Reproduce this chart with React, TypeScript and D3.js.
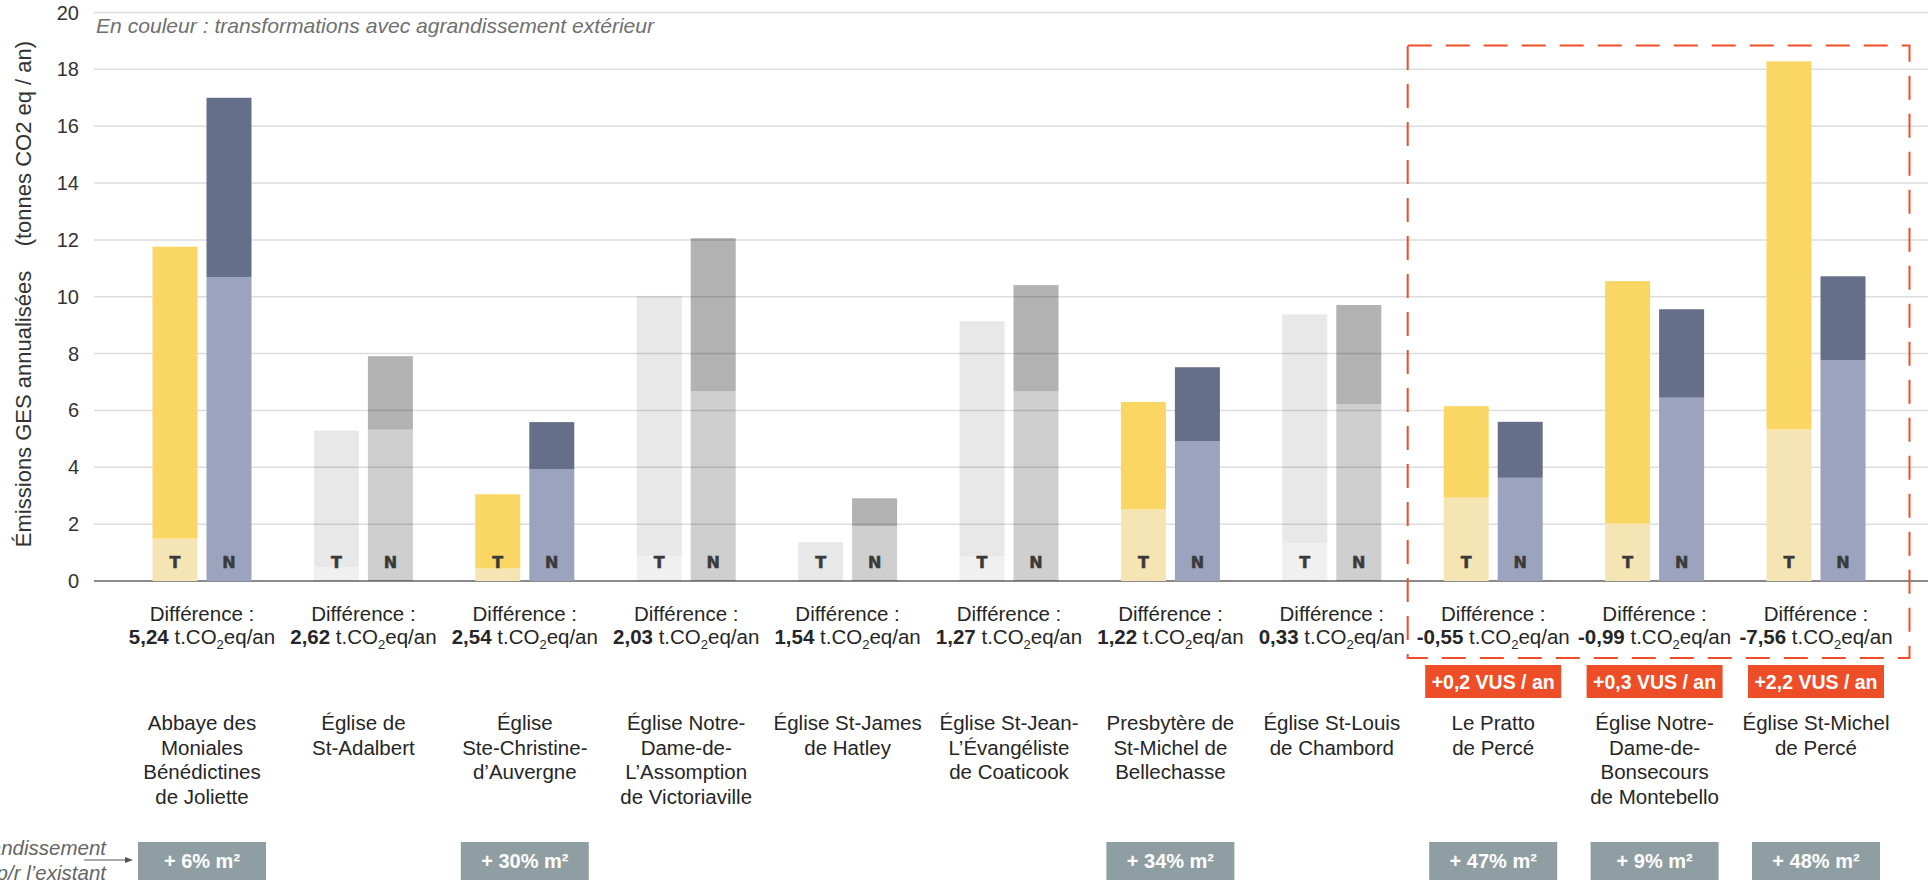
import React from "react";
import * as d3 from "d3";

// Buildings compared (one group per site, split over several lines)
const siteLines: string[][] = [
  ["Abbaye des", "Moniales", "Bénédictines", "de Joliette"],
  ["Église de", "St-Adalbert"],
  ["Église", "Ste-Christine-", "d’Auvergne"],
  ["Église Notre-", "Dame-de-", "L’Assomption", "de Victoriaville"],
  ["Église St-James", "de Hatley"],
  ["Église St-Jean-", "L’Évangéliste", "de Coaticook"],
  ["Presbytère de", "St-Michel de", "Bellechasse"],
  ["Église St-Louis", "de Chambord"],
  ["Le Pratto", "de Percé"],
  ["Église Notre-", "Dame-de-", "Bonsecours", "de Montebello"],
  ["Église St-Michel", "de Percé"],
];

// T = transformation, N = construction neuve (t CO2 eq / an)
const tBase = [1.49, 0.49, 0.44, 0.89, 0, 0.86, 2.52, 1.33, 2.93, 2.02, 5.33];
const tTotal = [11.76, 5.29, 3.05, 10.03, 1.37, 9.14, 6.3, 9.38, 6.15, 10.55, 18.28];
const nBase = [10.69, 5.33, 3.94, 6.68, 1.93, 6.68, 4.92, 6.22, 3.63, 6.45, 7.76];
const nTotal = [17.0, 7.91, 5.59, 12.06, 2.91, 10.41, 7.52, 9.71, 5.6, 9.56, 10.72];

// Agrandissement extérieur (% m² p/r à l'existant), null = aucun
const extension: (number | null)[] = [6, null, 30, null, null, null, 34, null, 47, 9, 48];
// Équivalent VUS / an for the sites where the transformation emits more
const vusPerYear: (number | null)[] = [null, null, null, null, null, null, null, null, 0.2, 0.3, 2.2];

const yTicks = [0, 2, 4, 6, 8, 10, 12, 14, 16, 18, 20];
const barKinds = ["T", "N"];

const W = 1928;
const H = 884;
const FONT = "'Liberation Sans', Arial, Helvetica, sans-serif";

const frLocale = d3.formatLocale({
  decimal: ",",
  thousands: " ",
  grouping: [3],
  currency: ["", ""],
  minus: "-",
});
const fmt2 = frLocale.format(".2f");
const fmt1 = frLocale.format(".1f");

const COLORS = {
  tTop: "#FAD664",
  tBase: "#F5E5B5",
  nTop: "#666F8A",
  nBase: "#9CA3BE",
  grid: "#DDDDDD",
  axis: "#8A8A8A",
  red: "#EE4E27",
  boxGray: "#8F9EA3",
  text: "#262626",
};

export default function App() {
  const keys = siteLines.map((l) => l.join(" "));
  const y = d3.scaleLinear().domain([0, 20]).range([581, 12.5]);
  const x = d3.scaleBand<string>().domain(keys).range([121.3, 1896.7]).padding(0);
  const half = x.bandwidth() / 2;
  const inner = d3
    .scaleBand<string>()
    .domain(barKinds)
    .range([half - 49.5, half + 49.5])
    .paddingInner(1 / 6)
    .paddingOuter(0);
  const bw = inner.bandwidth();

  const center = (i: number) => (x(keys[i]) as number) + half;

  // Red frame around the last three sites
  const frameLeft = center(8) - 85.5;
  const frameRight = center(10) + 93.5;

  return (
    <svg
      width={W}
      height={H}
      viewBox={`0 0 ${W} ${H}`}
      style={{ position: "absolute", left: 0, top: 0, display: "block", background: "#fff" }}
      fontFamily={FONT}
    >
      {/* grid */}
      {yTicks.map((t) => (
        <line
          key={"g" + t}
          x1={94}
          x2={W}
          y1={y(t)}
          y2={y(t)}
          stroke={t === 0 ? COLORS.axis : COLORS.grid}
          strokeWidth={t === 0 ? 2.2 : 1.5}
        />
      ))}
      {yTicks.map((t) => (
        <text
          key={"yt" + t}
          x={79}
          y={y(t) + 7}
          textAnchor="end"
          fontSize={20}
          fill="#333"
        >
          {t}
        </text>
      ))}
      <text
        transform={`translate(31, 294) rotate(-90)`}
        textAnchor="middle"
        fontSize={22}
        fill="#333"
        xmlSpace="preserve"
      >
        {"Émissions GES annualisées    (tonnes CO2 eq / an)"}
      </text>

      <text x={96} y={33} fontSize={21.1} fontStyle="italic" fill="#707070">
        En couleur : transformations avec agrandissement extérieur
      </text>

      {/* bars */}
      {keys.map((k, i) => {
        const x0 = x(k) as number;
        const colored = extension[i] != null;
        const xt = x0 + (inner("T") as number);
        const xn = x0 + (inner("N") as number);
        const seg = (xx: number, lo: number, hi: number, fill: string, op: number, key: string) => (
          <rect
            key={key}
            x={xx}
            y={y(hi)}
            width={bw}
            height={Math.max(0, y(lo) - y(hi))}
            fill={fill}
            fillOpacity={op}
          />
        );
        return (
          <g key={"b" + i}>
            {colored
              ? [
                  seg(xt, 0, tBase[i], COLORS.tBase, 1, "tb"),
                  seg(xt, tBase[i], tTotal[i], COLORS.tTop, 1, "tt"),
                  seg(xn, 0, nBase[i], COLORS.nBase, 1, "nb"),
                  seg(xn, nBase[i], nTotal[i], COLORS.nTop, 1, "nt"),
                ]
              : [
                  seg(xt, 0, tBase[i], "#000", 0.06, "tb"),
                  seg(xt, tBase[i], tTotal[i], "#000", 0.09, "tt"),
                  seg(xn, 0, nBase[i], "#000", 0.19, "nb"),
                  seg(xn, nBase[i], nTotal[i], "#000", 0.3, "nt"),
                ]}
            {barKinds.map((b) => (
              <text
                key={b}
                x={x0 + (inner(b) as number) + bw / 2}
                y={567.5}
                textAnchor="middle"
                fontFamily="'DejaVu Sans', sans-serif"
                fontWeight="bold"
                fontSize={16}
                fill="#3a3a3a"
                stroke="#3a3a3a"
                strokeWidth={0.5}
              >
                {b}
              </text>
            ))}
          </g>
        );
      })}

      {/* difference labels */}
      {keys.map((k, i) => {
        const cx = center(i);
        const diff = nTotal[i] - tTotal[i];
        return (
          <g key={"d" + i} fill={COLORS.text}>
            <text x={cx} y={621} textAnchor="middle" fontSize={20.5}>
              Différence :
            </text>
            <text x={cx} y={644} textAnchor="middle" fontSize={20.5}>
              <tspan fontWeight="bold">{fmt2(diff)}</tspan>
              <tspan> t.CO</tspan>
              <tspan fontSize={13} dy={5}>
                2
              </tspan>
              <tspan dy={-5}>eq/an</tspan>
            </text>
          </g>
        );
      })}

      {/* VUS equivalents */}
      {vusPerYear.map((v, i) =>
        v == null ? null : (
          <g key={"v" + i}>
            <rect x={center(i) - 68} y={665} width={136} height={33} fill={COLORS.red} />
            <text
              x={center(i)}
              y={688.5}
              textAnchor="middle"
              fontSize={19.5}
              fontWeight="bold"
              fill="#fff"
            >
              {`+${fmt1(v)} VUS / an`}
            </text>
          </g>
        )
      )}

      {/* site names */}
      {siteLines.map((lines, i) => (
        <text key={"n" + i} textAnchor="middle" fontSize={20.5} fill={COLORS.text}>
          {lines.map((l, j) => (
            <tspan key={j} x={center(i)} y={730 + j * 24.6}>
              {l}
            </tspan>
          ))}
        </text>
      ))}

      {/* extension boxes */}
      {extension.map((e, i) =>
        e == null ? null : (
          <g key={"e" + i}>
            <rect x={center(i) - 64} y={842} width={128} height={38} fill={COLORS.boxGray} />
            <text
              x={center(i)}
              y={868}
              textAnchor="middle"
              fontSize={20}
              fontWeight="bold"
              fill="#fff"
            >
              {`+ ${e}% m²`}
            </text>
          </g>
        )
      )}

      {/* side note for the extension row */}
      <text textAnchor="end" fontSize={20.5} fontStyle="italic" fill="#666">
        <tspan x={106} y={855}>
          Agrandissement
        </tspan>
        <tspan x={106} y={880}>
          p/r l’existant
        </tspan>
      </text>
      <line x1={84} x2={128} y1={860} y2={860} stroke="#555" strokeWidth={1} />
      <path d="M 133 860 L 125 857 L 125 863 Z" fill="#555" />

      {/* red frame */}
      <rect
        x={frameLeft}
        y={45.5}
        width={frameRight - frameLeft}
        height={612.5}
        fill="none"
        stroke={COLORS.red}
        strokeWidth={2}
        strokeDasharray="24 14"
      />
    </svg>
  );
}
